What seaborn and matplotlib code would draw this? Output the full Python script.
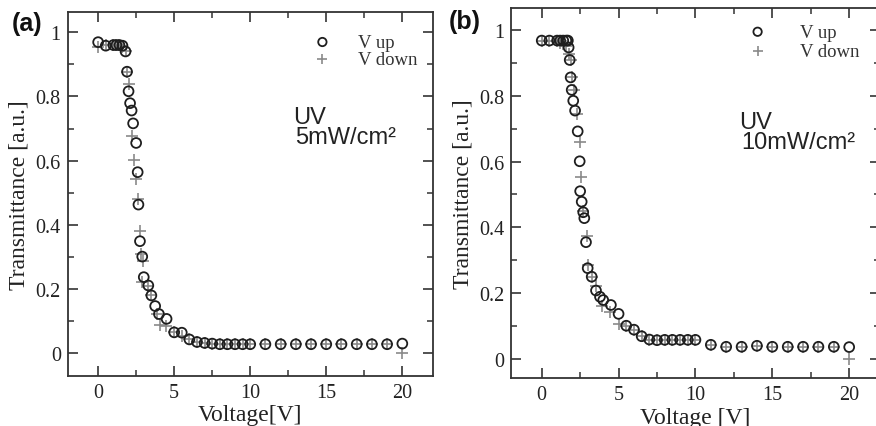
import numpy as np
import pandas as pd
import matplotlib
matplotlib.use("Agg")
import matplotlib.pyplot as plt
import seaborn as sns
from matplotlib.ticker import MultipleLocator, FuncFormatter

# ---------------- data ----------------
# Panel (a): UV 5 mW/cm2
a_up_x = [0, 0.5, 1.0, 1.2, 1.4, 1.6, 1.8, 1.9, 2.0, 2.1, 2.2, 2.3, 2.5, 2.6, 2.65, 2.75, 2.9, 3.0,
          3.3, 3.5, 3.75, 4.0, 4.5, 5.0, 5.5, 6.0, 6.5, 7.0, 7.5, 8.0, 8.5, 9.0, 9.5, 10.0,
          11, 12, 13, 14, 15, 16, 17, 18, 19, 20]
a_up_y = [0.969, 0.958, 0.96, 0.96, 0.96, 0.958, 0.94, 0.877, 0.816, 0.779, 0.756, 0.716, 0.655, 0.564,
          0.463, 0.349, 0.301, 0.237, 0.211, 0.18, 0.147, 0.122, 0.107, 0.065, 0.064, 0.043, 0.035,
          0.032, 0.030, 0.028, 0.028, 0.028, 0.028, 0.028, 0.028, 0.028, 0.028, 0.028, 0.028,
          0.028, 0.028, 0.028, 0.028, 0.030]
a_dn_x = [0, 0.5, 1.0, 1.2, 1.4, 1.6, 1.8, 1.9, 2.0, 2.2, 2.35, 2.5, 2.65, 2.75, 2.82, 2.94, 2.9,
          3.3, 3.5, 3.85, 4.1, 4.45, 5.0, 5.5, 6.0, 6.5, 7.0, 7.5, 8.0, 8.5, 9.0, 9.5, 10.0,
          11, 12, 13, 14, 15, 16, 17, 18, 19, 20]
a_dn_y = [0.955, 0.96, 0.96, 0.96, 0.96, 0.955, 0.94, 0.877, 0.839, 0.676, 0.602, 0.543, 0.479, 0.382,
          0.31, 0.288, 0.221, 0.21, 0.18, 0.122, 0.088, 0.084, 0.065, 0.055, 0.043, 0.035, 0.032,
          0.030, 0.028, 0.028, 0.028, 0.028, 0.028, 0.028, 0.028, 0.028, 0.028, 0.028, 0.028,
          0.028, 0.028, 0.028, 0.0]

# Panel (b): UV 10 mW/cm2
b_up_x = [0, 0.5, 1.0, 1.2, 1.4, 1.6, 1.7, 1.75, 1.82, 1.88, 1.95, 2.05, 2.17, 2.34, 2.47, 2.5, 2.6,
          2.7, 2.77, 2.88, 2.99, 3.25, 3.53, 3.79, 4.0, 4.5, 5.0, 5.5, 6.0, 6.5, 7.0, 7.5, 8.0, 8.5,
          9.0, 9.5, 10.0, 11, 12, 13, 14, 15, 16, 17, 18, 19, 20]
b_up_y = [0.968, 0.968, 0.968, 0.968, 0.968, 0.968, 0.968, 0.947, 0.909, 0.856, 0.818, 0.785, 0.755,
          0.692, 0.601, 0.51, 0.478, 0.446, 0.428, 0.355, 0.276, 0.25, 0.208, 0.189, 0.179, 0.164,
          0.137, 0.101, 0.089, 0.069, 0.059, 0.057, 0.058, 0.058, 0.058, 0.058, 0.058, 0.043, 0.037,
          0.037, 0.040, 0.037, 0.037, 0.037, 0.037, 0.037, 0.036]
b_dn_x = [0, 0.5, 1.0, 1.2, 1.4, 1.6, 1.8, 1.88, 2.0, 2.1, 2.27, 2.49, 2.53, 2.7, 2.92, 3.0, 3.25,
          3.53, 3.94, 4.44, 5.03, 5.5, 6.0, 6.5, 7.0, 7.5, 8.0, 8.5, 9.0, 9.5, 10.0, 11, 12, 13, 14,
          15, 16, 17, 18, 19, 20]
b_dn_y = [0.968, 0.968, 0.968, 0.962, 0.958, 0.952, 0.927, 0.909, 0.856, 0.818, 0.745, 0.66, 0.552,
          0.45, 0.375, 0.285, 0.25, 0.223, 0.16, 0.142, 0.106, 0.101, 0.089, 0.069, 0.059, 0.057,
          0.058, 0.058, 0.058, 0.058, 0.058, 0.043, 0.037, 0.037, 0.040, 0.037, 0.037, 0.037, 0.037,
          0.037, 0.0]

x_ticks = [0, 5, 10, 15, 20]
y_ticks = [0, 0.2, 0.4, 0.6, 0.8, 1.0]

# ---------------- style ----------------
sns.set_style("ticks")
plt.rcParams['font.family'] = ['Liberation Serif', 'DejaVu Serif']
plt.rcParams['axes.edgecolor'] = '#333333'
plt.rcParams['axes.linewidth'] = 1.3

fig = plt.figure(figsize=(8.76, 4.27), dpi=100)
ax_a = fig.add_axes([0.0773, 0.1178, 0.4167, 0.8518])
ax_b = fig.add_axes([0.5833, 0.1124, 0.4212, 0.8665])

UP_EDGE = '#1e1e1e'
DN_COLOR = '#8a8a8a'


def draw(ax, ux, uy, dx, dy, xlabel, ylim, leg_anchor, textpad, lspacing, uv_xy, dose):
    du = pd.DataFrame({'V': ux, 'T': uy})
    dd = pd.DataFrame({'V': dx, 'T': dy})
    sns.scatterplot(data=dd, x='V', y='T', ax=ax, marker='+', s=70, color=DN_COLOR,
                    linewidth=1.2, label='V down', zorder=2)
    sns.scatterplot(data=du, x='V', y='T', ax=ax, marker='o', s=50, facecolor='none',
                    edgecolor=UP_EDGE, linewidth=1.3, label='V up', zorder=3)
    ax.set_xlim(-2, 22)
    ax.set_ylim(*ylim)
    ax.set_xticks(x_ticks)
    ax.set_yticks(y_ticks)
    ax.xaxis.set_minor_locator(MultipleLocator(2.5))
    ax.yaxis.set_minor_locator(MultipleLocator(0.1))
    ax.yaxis.set_major_formatter(FuncFormatter(lambda v, p: '%g' % round(v, 2)))
    ax.tick_params(which='both', direction='in', top=True, right=True, colors='#333333',
                   labelcolor='#222222')
    ax.tick_params(which='major', length=7, width=1.2, labelsize=14.5, pad=5)
    ax.tick_params(which='minor', length=4, width=1.1)
    ax.set_xlabel(xlabel, fontsize=17, labelpad=2, color='#222222')
    ax.set_ylabel('Transmittance [a.u.]', fontsize=17, labelpad=4, color='#222222')
    for sp in ax.spines.values():
        sp.set_visible(True)
    h, l = ax.get_legend_handles_labels()
    order = [l.index('V up'), l.index('V down')]
    ax.legend([h[i] for i in order], [l[i] for i in order], loc='upper left',
              bbox_to_anchor=leg_anchor, frameon=False, fontsize=13.5, markerscale=0.85,
              handlelength=1.0, handletextpad=textpad, labelspacing=lspacing, borderpad=0,
              borderaxespad=0, labelcolor='#333333')
    ax.text(uv_xy[0], uv_xy[1], 'UV', transform=ax.transAxes, fontsize=17,
            family=['Liberation Sans', 'DejaVu Sans'], color='#222222', va='center', ha='left')
    ax.text(uv_xy[0] + 0.006, uv_xy[1] - 0.055, dose, transform=ax.transAxes, fontsize=17,
            family=['Liberation Sans', 'DejaVu Sans'], color='#222222', va='center', ha='left')


draw(ax_a, a_up_x, a_up_y, a_dn_x, a_dn_y, 'Voltage[V]', (-0.07, 1.063),
     (0.672, 0.94), 1.4, 0.0, (0.618, 0.71), '5mW/cm²')
draw(ax_b, b_up_x, b_up_y, b_dn_x, b_dn_y, 'Voltage [V]', (-0.058, 1.067),
     (0.643, 0.958), 1.75, 0.12, (0.618, 0.693), '10mW/cm²')

fig.text(0.031, 0.944, '(a)', fontsize=18, fontweight='bold',
         family=['Liberation Sans', 'DejaVu Sans'], ha='center', va='center', color='#111111')
fig.text(0.531, 0.948, '(b)', fontsize=18, fontweight='bold',
         family=['Liberation Sans', 'DejaVu Sans'], ha='center', va='center', color='#111111')

fig.savefig('out.png', dpi=100)
